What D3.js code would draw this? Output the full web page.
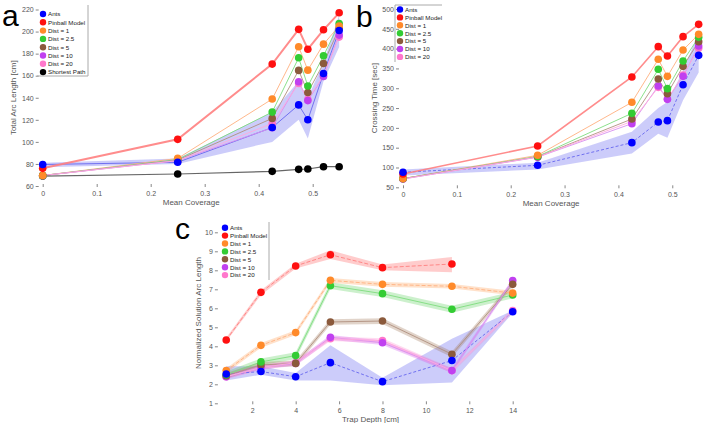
<!DOCTYPE html>
<html>
<head>
<meta charset="utf-8">
<script src="https://cdn.jsdelivr.net/npm/d3@7"></script>
<style>
  body { margin: 0; background: #fff; }
  svg { font-family: "Liberation Sans", Arial, sans-serif; }
  .tick text { fill: #555; font-size: 7px; }
  .tick line { stroke: #888; }
  .axis-label { fill: #555; font-size: 8px; }
  .panel-letter { font-size: 30px; fill: #000; }
  .legend text { font-size: 6.2px; fill: #222; }
</style>
</head>
<body>
<svg id="chart" width="708" height="423"></svg>
<script>
// ---- data ----
const names = ["Ants", "Pinball Model", "Dist = 1", "Dist = 2.5", "Dist = 5", "Dist = 10", "Dist = 20", "Shortest Path"];
const dotColors = ["#0000ff", "#ff1010", "#ff8a2a", "#33cc33", "#8b5a3c", "#c040f0", "#ff77cc", "#000000"];
const lineColors = ["#6666ee", "#ff8080", "#ffb080", "#80dd80", "#b09080", "#d890f0", "#ffaadd", "#555555"];

const coverage = [0, 0.25, 0.425, 0.474, 0.491, 0.52, 0.549];

// panel a: total arc length [cm]
const arcAnts = [79.5, 81.5, 113, 133.5, 120, 162, 201];
const arcAntsLo = [77, 80, 100, 120, 103, 155, 186];
const arcAntsHi = [81, 85, 127, 155, 140, 172, 215];
const arcPinball = [76, 102.3, 170.5, 202, 184, 201.6, 217];
const arcDist1 = [69.5, 85, 138.8, 186.2, 165, 188.6, 205];
const arcDist25 = [69.5, 84, 127, 176.2, 150.6, 178, 207.3];
const arcDist5 = [69.5, 83.5, 121.3, 164.8, 144.8, 171.1, 202.8];
const arcDist10 = [69.5, 83, 112.8, 154.5, 137.4, 159.3, 196.8];
const arcDist20 = [69.5, 83, 116.7, 153, 138.5, 160.2, 195];
const arcShortest = [69, 70.9, 73.3, 75.1, 75.4, 77.5, 77.5];

// panel b: crossing time [sec]
const timeAnts = [88, 105.5, 162.7, 214.9, 218.2, 309, 383];
const timeAntsLo = [80, 95, 135, 185, 175, 270, 340];
const timeAntsHi = [95, 112, 190, 250, 265, 345, 440];
const timePinball = [83.6, 154.3, 328.4, 405, 381.4, 430.2, 461.3];
const timeDist1 = [72, 130.7, 264.5, 373, 330, 396.5, 436];
const timeDist25 = [72, 128, 236.7, 347.8, 299, 368.8, 428.5];
const timeDist5 = [72, 127, 222.4, 323.4, 286.4, 355.3, 417.6];
const timeDist10 = [71, 126, 210.7, 305.7, 272, 330, 406.6];
const timeDist20 = [71, 126.5, 216.5, 302.3, 273, 333.5, 400.7];

// panel c: normalized solution arc length vs trap depth [cm]
const depth = [0.8, 2.4, 4.0, 5.6, 8.0, 11.2, 14.0];
const normAnts = [2.54, 2.67, 2.4, 3.14, 2.14, 3.25, 5.82];
const normAntsLo = [2.2, 2.5, 2.2, 2.2, 1.95, 2.1, 5.75];
const normAntsHi = [2.95, 2.95, 2.6, 4.05, 2.35, 4.4, 5.88];
const normPinball = [4.33, 6.84, 8.23, 8.82, 8.14, 8.33];
const normPinballLo = [4.25, 6.7, 8.1, 8.6, 8.0, 7.9];
const normPinballHi = [4.45, 6.95, 8.35, 9.05, 8.3, 8.7];
const normDist1 = [2.72, 4.05, 4.72, 7.47, 7.26, 7.16, 6.8];
const normDist25 = [2.5, 3.18, 3.51, 7.19, 6.77, 5.95, 6.7];
const normDist5 = [2.45, 3.02, 3.1, 5.28, 5.33, 3.58, 7.26];
const normDist10 = [2.4, 2.9, 3.1, 4.47, 4.19, 2.72, 7.46];
const normDist20 = [2.4, 2.88, 3.14, 4.4, 4.3, 2.72, 5.88];
const normSpread = [0.12, 0.18, 0.15, 0.12, 0.12];

const svg = d3.select("#chart");

function drawPanel(opts) {
    const g = svg.append("g");
    const x = d3.scaleLinear().domain(opts.xDomain).range(opts.xRange);
    const y = d3.scaleLinear().domain(opts.yDomain).range(opts.yRange);

    // axes
    const yAxis = g.append("g")
        .attr("transform", `translate(${opts.xRange[0] - 4},0)`)
        .call(d3.axisLeft(y).tickValues(opts.yTicks).tickSize(3).tickPadding(2).tickFormat(d3.format("d")));
    yAxis.select(".domain").remove();

    const xAxis = g.append("g")
        .attr("transform", `translate(0,${opts.yRange[0] + 1})`)
        .call(d3.axisBottom(x).tickValues(opts.xTicks).tickSize(-3).tickPadding(4).tickFormat(opts.xFormat));
    xAxis.select(".domain").remove();

    g.append("text").attr("class", "axis-label")
        .attr("x", d3.mean(opts.xRange)).attr("y", opts.yRange[0] + 19)
        .attr("text-anchor", "middle").text(opts.xLabel);
    g.append("text").attr("class", "axis-label")
        .attr("transform", `translate(${opts.yLabelX},${d3.mean(opts.yRange)}) rotate(-90)`)
        .attr("text-anchor", "middle").text(opts.yLabel);

    g.append("text").attr("class", "panel-letter")
        .attr("x", opts.letterX).attr("y", opts.letterY).text(opts.letter);

    const area = d3.area().x(d => x(d.x)).y0(d => y(d.lo)).y1(d => y(d.hi));
    const line = d3.line().x(d => x(d.x)).y(d => y(d.y));

    // bands first
    opts.series.forEach(s => {
        if (!s.lo) return;
        const pts = s.values.map((v, i) => ({ x: opts.xs[i], lo: s.lo[i], hi: s.hi[i] }));
        g.append("path").attr("d", area(pts))
            .attr("fill", s.band).attr("opacity", s.bandOpacity || 0.3);
    });
    // lines
    opts.series.forEach(s => {
        const pts = s.values.map((v, i) => ({ x: opts.xs[i], y: v }));
        g.append("path").attr("d", line(pts))
            .attr("fill", "none").attr("stroke", s.line)
            .attr("stroke-width", s.width || 1)
            .attr("stroke-dasharray", s.dash || null)
            .attr("opacity", 0.9);
    });
    // markers, drawn in reverse so Ants sits on top
    opts.series.slice().reverse().forEach(s => {
        g.append("g").selectAll("circle")
            .data(s.values)
            .join("circle")
            .attr("cx", (v, i) => x(opts.xs[i]))
            .attr("cy", v => y(v))
            .attr("r", 3.8)
            .attr("fill", s.dot);
    });

    // legend
    const lg = g.append("g").attr("class", "legend");
    const box = opts.legendBox;
    if (box.sides.includes("r")) lg.append("line").attr("x1", box.x1).attr("x2", box.x1).attr("y1", box.y0).attr("y2", box.y1).attr("stroke", "#aaa");
    if (box.sides.includes("b")) lg.append("line").attr("x1", box.x0).attr("x2", box.x1).attr("y1", box.y1).attr("y2", box.y1).attr("stroke", "#aaa");
    if (box.sides.includes("t")) lg.append("line").attr("x1", box.x0).attr("x2", box.x1).attr("y1", box.y0).attr("y2", box.y0).attr("stroke", "#aaa");
    if (box.sides.includes("l")) lg.append("line").attr("x1", box.x0).attr("x2", box.x0).attr("y1", box.y0).attr("y2", box.y1).attr("stroke", "#aaa");
    opts.legendNames.forEach((n, i) => {
        const k = names.indexOf(n);
        const yy = opts.legendY + i * opts.legendStep;
        lg.append("circle").attr("cx", opts.legendX).attr("cy", yy).attr("r", 3.2).attr("fill", dotColors[k]);
        lg.append("text").attr("x", opts.legendX + 5).attr("y", yy + 2.3).text(n);
    });
}

function mk(idx, values, extra) {
    return Object.assign({ values, dot: dotColors[idx], line: lineColors[idx] }, extra || {});
}

// panel a
drawPanel({
    letter: "a", letterX: 2, letterY: 26,
    xs: coverage,
    xDomain: [0, 0.55], xRange: [42.7, 339.7],
    yDomain: [60, 220], yRange: [186, 9.5],
    xTicks: [0, 0.1, 0.2, 0.3, 0.4, 0.5], yTicks: d3.range(60, 221, 20),
    xFormat: d3.format("~g"),
    xLabel: "Mean Coverage", yLabel: "Total Arc Length [cm]", yLabelX: 16,
    series: [
        mk(0, arcAnts, { lo: arcAntsLo, hi: arcAntsHi, band: "#5555ee", bandOpacity: 0.3 }),
        mk(1, arcPinball, { width: 2 }),
        mk(2, arcDist1), mk(3, arcDist25), mk(4, arcDist5), mk(5, arcDist10), mk(6, arcDist20),
        mk(7, arcShortest, { width: 1.2 })
    ],
    legendNames: names,
    legendX: 43, legendY: 14, legendStep: 8.3,
    legendBox: { x0: 37, x1: 88, y0: 5, y1: 76, sides: "rb" }
});

// panel b
drawPanel({
    letter: "b", letterX: 356, letterY: 27,
    xs: coverage,
    xDomain: [0, 0.55], xRange: [403, 699.2],
    yDomain: [50, 500], yRange: [187.3, 9],
    xTicks: [0, 0.1, 0.2, 0.3, 0.4, 0.5], yTicks: d3.range(50, 501, 50),
    xFormat: d3.format("~g"),
    xLabel: "Mean Coverage", yLabel: "Crossing Time [sec]", yLabelX: 377,
    series: [
        mk(0, timeAnts, { lo: timeAntsLo, hi: timeAntsHi, band: "#5555ee", bandOpacity: 0.3, dash: "3,2" }),
        mk(1, timePinball, { width: 1.6 }),
        mk(2, timeDist1), mk(3, timeDist25), mk(4, timeDist5), mk(5, timeDist10), mk(6, timeDist20)
    ],
    legendNames: names.slice(0, 7),
    legendX: 400, legendY: 9.5, legendStep: 7.9,
    legendBox: { x0: 395, x1: 442, y0: 5, y1: 62, sides: "tl" }
});

// panel c
function spread(values, w) {
    return { lo: values.map(v => v - w), hi: values.map(v => v + w) };
}
const s1 = spread(normDist1, normSpread[0]);
const s25 = spread(normDist25, normSpread[1]);
const s5 = spread(normDist5, normSpread[2]);
const s10 = spread(normDist10, normSpread[3]);
const s20 = spread(normDist20, normSpread[4]);
drawPanel({
    letter: "c", letterX: 175, letterY: 239,
    xs: depth,
    xDomain: [0.6, 14.3], xRange: [221.9, 519.2],
    yDomain: [1, 10.5], yRange: [403.3, 222.8],
    xTicks: [2, 4, 6, 8, 10, 12, 14], yTicks: d3.range(1, 11),
    xFormat: d3.format("d"),
    xLabel: "Trap Depth [cm]", yLabel: "Normalized Solution Arc Length", yLabelX: 201,
    series: [
        mk(0, normAnts, { lo: normAntsLo, hi: normAntsHi, band: "#5555ee", bandOpacity: 0.3, dash: "3,2" }),
        mk(1, normPinball, { lo: normPinballLo, hi: normPinballHi, band: "#ff5555", bandOpacity: 0.3, dash: "4,2" }),
        mk(2, normDist1, { lo: s1.lo, hi: s1.hi, band: "#ff9a50", dash: "4,2" }),
        mk(3, normDist25, { lo: s25.lo, hi: s25.hi, band: "#55cc55" }),
        mk(4, normDist5, { lo: s5.lo, hi: s5.hi, band: "#9a7050" }),
        mk(5, normDist10, { lo: s10.lo, hi: s10.hi, band: "#cc55ee" }),
        mk(6, normDist20, { lo: s20.lo, hi: s20.hi, band: "#ff88cc" })
    ],
    legendNames: names.slice(0, 7),
    legendX: 225, legendY: 227.7, legendStep: 7.9,
    legendBox: { x0: 220, x1: 269, y0: 222, y1: 280, sides: "r" }
});
</script>
</body>
</html>
